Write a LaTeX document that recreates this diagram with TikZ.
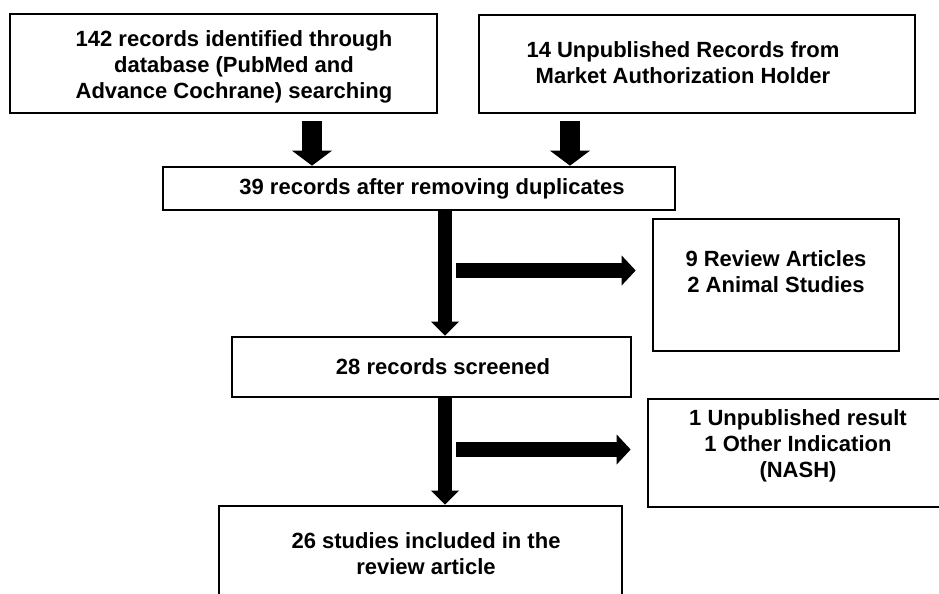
\documentclass[tikz,border=0pt]{standalone}
\usepackage{fontspec}
\setmainfont{Liberation Sans}
\usetikzlibrary{arrows.meta}
\begin{document}
\begin{tikzpicture}[x=0.75pt,y=-0.75pt,
  box/.style={draw=black,line width=2pt,fill=white,inner sep=0pt},
  txt/.style={font=\bfseries\fontsize{16.5}{19.5}\selectfont,align=center,inner sep=0pt},
  toparrow/.style={line width=15pt,-{Triangle[length=11.25pt,width=30pt,line width=0pt]}},
  varrow/.style={line width=10.5pt,-{Triangle[length=10.5pt,width=21pt,line width=0pt]}},
  harrow/.style={line width=11.25pt,-{Triangle[length=10.5pt,width=22.5pt,line width=0pt]}}]
\useasboundingbox (0,0) rectangle (939,593);
\fill[white] (0,0) rectangle (939,593);
\clip (0,0) rectangle (939,593);

% boxes
\node[box,minimum width=320.25pt,minimum height=74.25pt] (b1) at (223.5,63.5) {};
\node[box,minimum width=327pt,minimum height=73.5pt] (b2) at (697,64) {};
\node[box,minimum width=384pt,minimum height=32.25pt] (b3) at (419,188.5) {};
\node[box,minimum width=184.5pt,minimum height=99pt] (b4) at (776,285) {};
\node[box,minimum width=299.25pt,minimum height=45pt] (b5) at (431.5,367) {};
\node[box,minimum width=225pt,minimum height=81pt] (b6) at (798,453) {};
\node[box,minimum width=302.25pt,minimum height=78pt] (b7) at (420.5,558) {};

% texts
\node[txt] (t1) at (234,66.5) {142 records identified through\\database (PubMed and\\Advance Cochrane) searching};
\node[txt] (t2) at (683,63) {14 Unpublished Records from\\Market Authorization Holder};
\node[txt] (t3) at (432,189) {39 records after removing duplicates};
\node[txt] (t4) at (776,272) {9 Review Articles\\2 Animal Studies};
\node[txt] (t5) at (443,367) {28 records screened};
\node[txt] (t6) at (798,446) {1 Unpublished result\\1 Other Indication\\(NASH)};
\node[txt] (t7) at (426,554) {26 studies included in the\\review article};

% connector guides
\coordinate (x1) at (312,0);
\coordinate (x2) at (570,0);
\coordinate (xm) at (445,0);
\coordinate (h1) at (456,270.5);
\coordinate (h2) at (456,449.5);

% arrows
\draw[toparrow] ([yshift=-5pt]b1.south -| x1) -- (b3.north -| x1);
\draw[toparrow] ([yshift=-5pt]b2.south -| x2) -- (b3.north -| x2);
\draw[varrow] (b3.south -| xm) -- (b5.north -| xm);
\draw[varrow] (b5.south -| xm) -- (b7.north -| xm);
\draw[harrow] (h1) -- ([xshift=-12pt]b4.west |- h1);
\draw[harrow] (h2) -- ([xshift=-12pt]b6.west |- h2);
\end{tikzpicture}
\end{document}
